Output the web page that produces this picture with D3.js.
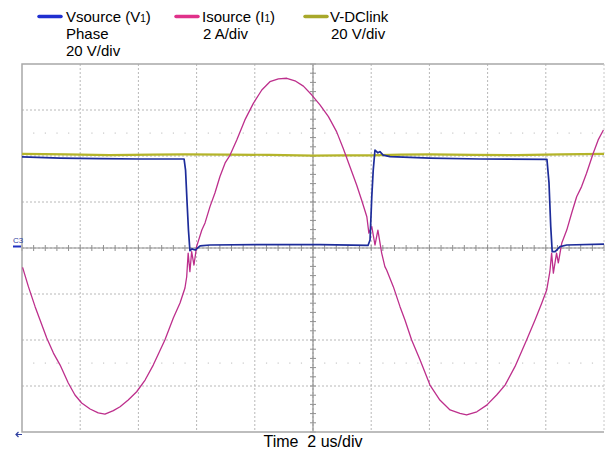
<!DOCTYPE html>
<html>
<head>
<meta charset="utf-8">
<script src="https://cdn.jsdelivr.net/npm/d3@7"></script>
<style>
	body { margin: 0; background: #fff; }
	svg { display: block; font-family: "Liberation Sans", Arial, sans-serif; }
</style>
</head>
<body>
<div id="chart"></div>
<script>
// time in us, 2 us/div, 10 divisions
var timeDivs = [0, 2, 4, 6, 8, 10, 12, 14, 16, 18, 20];
// vertical divisions, as volts at 20 V/div
var voltDivs = [-80, -60, -40, -20, 0, 20, 40, 60, 80];
// faint dotted marker rows (V)
var markerVolts = [-50, 50];

var legendNames = ["Vsource (V", "Isource (I", "V-DClink"];
var legendSubs = ["1", "1", ""];
var legendLines = [["Phase", "20 V/div"], ["2 A/div"], ["20 V/div"]];
var axisTitle = "Time  2 us/div";

// Vsource phase voltage, V
var vsrcTime = [0, 1.31, 2.68, 4.05, 5.57, 5.62, 5.67, 5.72, 5.77, 5.84, 5.95, 6.12, 6.46, 8.18, 10.24, 11.89,
	11.96, 12.02, 12.07, 12.13, 12.23, 12.3, 12.41, 12.65, 14.02, 15.74, 18.04, 18.11, 18.17, 18.22, 18.32, 18.49, 18.72, 20];
var vsrcVolt = [39.6, 39.1, 38.9, 38.7, 38.7, 33.9, 20.4, 7.8, -1.2, -0.4, -0.9, 0.9, 1.3, 1.5, 1.5, 1.1,
	3.5, 22.3, 33.9, 42.6, 41.4, 41.9, 40.4, 39.7, 39.1, 38.7, 38.5, 28.3, 9.3, -1.6, -1.6, 0.6, 1.3, 1.7];

// Isource current, A
var isrcTime = [0.02, 0.22, 0.45, 0.62, 0.85, 1.08, 1.31, 1.59, 1.82, 2.05, 2.34, 2.62, 2.85, 3.14, 3.37, 3.65,
	3.94, 4.23, 4.51, 4.91, 5.2, 5.43, 5.6, 5.66, 5.71, 5.77, 5.83, 5.91, 6.0, 6.18, 6.29, 6.46, 6.63, 6.8,
	6.98, 7.15, 7.38, 7.66, 7.95, 8.24, 8.52, 8.81, 9.1, 9.38, 9.67, 9.96, 10.24, 10.53, 10.81, 11.04, 11.27,
	11.5, 11.67, 11.85, 11.92, 12.02, 12.13, 12.23, 12.36, 12.47, 12.53, 12.76, 12.99, 13.16, 13.39, 13.68,
	14.02, 14.36, 14.71, 15.05, 15.28, 15.63, 15.97, 16.31, 16.6, 16.94, 17.34, 17.63, 17.86, 18.03, 18.14,
	18.2, 18.26, 18.37, 18.43, 18.55, 18.72, 18.89, 19.06, 19.23, 19.4, 19.63, 19.8, 19.98];
var isrcAmp = [-0.84, -1.68, -2.55, -3.13, -3.91, -4.57, -5.09, -5.87, -6.39, -6.74, -7.0, -7.17, -7.22, -7.07, -6.9, -6.61,
	-6.25, -5.74, -5.09, -4.0, -3.04, -2.39, -1.74, -1.25, -0.22, -1.03, -0.16, -0.74, 0.06, 0.78, 1.09, 1.8, 2.39, 3.1,
	3.7, 4.04, 4.7, 5.57, 6.29, 6.87, 7.23, 7.35, 7.38, 7.27, 7.04, 6.65, 6.22, 5.71, 5.06, 4.33, 3.53,
	2.74, 2.09, 1.36, 0.65, 0.93, 0.13, 0.78, -0.22, -0.81, -0.96, -1.68, -2.55, -3.13, -4.0, -4.87,
	-5.96, -6.61, -7.04, -7.19, -7.26, -7.12, -6.83, -6.39, -5.96, -5.16, -4.0, -3.13, -2.4, -1.83, -1.03,
	-0.22, -1.09, -0.22, -0.65, 0.22, 0.78, 1.52, 2.23, 2.67, 3.25, 4.12, 4.7, 5.13];

// DC link voltage, V
var dcTime = [0, 1.5, 3, 4.5, 5.6, 7, 8.5, 10, 11, 12, 13, 14, 15.5, 17, 18.5, 20];
var dcVolt = [40.9, 40.7, 40.4, 40.6, 40.7, 40.6, 40.5, 40.2, 40.3, 40.3, 40.6, 40.7, 40.5, 40.4, 40.7, 40.9];

var W = 605, H = 451;
var plot = {left: 22, right: 604, top: 64, bottom: 432};

var svg = d3.select("#chart").append("svg").attr("width", W).attr("height", H);

var x = d3.scaleLinear().domain([0, 20]).range([plot.left, plot.right]);
var yV = d3.scaleLinear().domain([-80, 80]).range([plot.bottom, plot.top]);
var yI = d3.scaleLinear().domain([-8, 8]).range([plot.bottom, plot.top]);

// dashed grid
svg.append("g").selectAll("line.vgrid").data(timeDivs.slice(1, -1)).enter().append("line")
	.classed("vgrid", 1)
	.attr("x1", function(d) { return x(d); })
	.attr("x2", function(d) { return x(d); })
	.attr("y1", plot.top).attr("y2", plot.bottom)
	.attr("stroke", "#b8b8b8").attr("stroke-width", 1).attr("stroke-dasharray", "2,2");

svg.append("g").selectAll("line.hgrid").data(voltDivs.slice(1, -1)).enter().append("line")
	.classed("hgrid", 1)
	.attr("x1", plot.left).attr("x2", plot.right)
	.attr("y1", function(d) { return yV(d); })
	.attr("y2", function(d) { return yV(d); })
	.attr("stroke", "#b8b8b8").attr("stroke-width", 1).attr("stroke-dasharray", "2,2");

// faint dotted marker rows: one dot per minor step
var minorT = d3.range(0, 20.001, 0.4).filter(function(t) { return Math.abs(t / 2 - Math.round(t / 2)) > 0.01; });
markerVolts.forEach(function(v)
{
	svg.append("g").selectAll("rect").data(minorT).enter().append("rect")
		.attr("x", function(d) { return x(d) - 0.5; })
		.attr("y", yV(v) - 0.5)
		.attr("width", 1.2).attr("height", 1.2)
		.attr("fill", "#c8c8c8");
});

// centre axes with minor ticks
svg.append("line")
	.attr("x1", plot.left).attr("x2", plot.right)
	.attr("y1", yV(0)).attr("y2", yV(0))
	.attr("stroke", "#909090").attr("stroke-width", 1.2);
svg.append("line")
	.attr("x1", x(10)).attr("x2", x(10))
	.attr("y1", plot.top).attr("y2", plot.bottom)
	.attr("stroke", "#909090").attr("stroke-width", 1.2);

svg.append("g").selectAll("line").data(d3.range(0, 20.001, 0.4)).enter().append("line")
	.attr("x1", function(d) { return x(d); })
	.attr("x2", function(d) { return x(d); })
	.attr("y1", yV(0) - 3).attr("y2", yV(0) + 3)
	.attr("stroke", "#909090").attr("stroke-width", 1);
svg.append("g").selectAll("line").data(d3.range(-80, 80.001, 4)).enter().append("line")
	.attr("x1", x(10) - 3).attr("x2", x(10) + 3)
	.attr("y1", function(d) { return yV(d); })
	.attr("y2", function(d) { return yV(d); })
	.attr("stroke", "#909090").attr("stroke-width", 1);

// frame
svg.append("path")
	.attr("d", "M" + plot.right + "," + plot.top + "H" + plot.left + "V" + plot.bottom + "H" + plot.right)
	.attr("fill", "none").attr("stroke", "#a8a8a8").attr("stroke-width", 1.5);
svg.append("line")
	.attr("x1", plot.right).attr("x2", plot.right)
	.attr("y1", plot.top).attr("y2", plot.bottom)
	.attr("stroke", "#c8c8c8").attr("stroke-width", 1).attr("stroke-dasharray", "2,2");

// traces
var dcLine = d3.line().x(function(d, i) { return x(dcTime[i]); }).y(function(d) { return yV(d); });
var vLine = d3.line().x(function(d, i) { return x(vsrcTime[i]); }).y(function(d) { return yV(d); });
var iLine = d3.line().x(function(d, i) { return x(isrcTime[i]); }).y(function(d) { return yI(d); });

svg.append("path").datum(dcVolt).attr("d", dcLine)
	.attr("fill", "none").attr("stroke", "#b4b42a").attr("stroke-width", 2.2);
svg.append("path").datum(isrcAmp).attr("d", iLine)
	.attr("fill", "none").attr("stroke", "#bd2f8c").attr("stroke-width", 1.3).attr("stroke-linejoin", "round");
svg.append("path").datum(vsrcVolt).attr("d", vLine)
	.attr("fill", "none").attr("stroke", "#1d2c9a").attr("stroke-width", 1.7).attr("stroke-linejoin", "round");

// channel marker on the left
svg.append("text").text("C3")
	.attr("x", 13).attr("y", 243)
	.attr("font-size", "8px").attr("fill", "#3040a0");
svg.append("line")
	.attr("x1", 13).attr("x2", 21)
	.attr("y1", yV(0) - 1.5).attr("y2", yV(0) - 1.5)
	.attr("stroke", "#2030c0").attr("stroke-width", 2);

// small trigger arrow, bottom left
svg.append("path")
	.attr("d", "M22,434.5H16M18.5,432L16,434.5L18.5,437")
	.attr("fill", "none").attr("stroke", "#3040a0").attr("stroke-width", 1.2);

// legend
var legColors = ["#1f2fd0", "#e0318a", "#a8a82a"];
var legX = [39, 176, 305];
var legTextX = [66, 202, 330];
var legGroups = svg.selectAll("g.leg").data(legendNames).enter().append("g").classed("leg", 1);

legGroups.append("line")
	.attr("x1", function(d, i) { return legX[i]; })
	.attr("x2", function(d, i) { return legX[i] + 22; })
	.attr("y1", 16.5).attr("y2", 16.5)
	.attr("stroke", function(d, i) { return legColors[i]; })
	.attr("stroke-width", 3.5).attr("stroke-linecap", "round");

legGroups.each(function(d, i)
{
	var g = d3.select(this);
	var t = g.append("text")
		.attr("x", legTextX[i]).attr("y", 22)
		.attr("font-size", "15px").attr("fill", "#000");
	t.append("tspan").text(d);
	if (legendSubs[i])
	{
		t.append("tspan").text(legendSubs[i]).attr("font-size", "10px");
		t.append("tspan").text(")");
	}
	legendLines[i].forEach(function(s, k)
	{
		g.append("text").text(s)
			.attr("x", legTextX[i] + (i == 0 ? 0 : 1)).attr("y", 39 + k * 17)
			.attr("font-size", "15px").attr("fill", "#000");
	});
});

svg.append("text").text(axisTitle)
	.attr("x", x(10)).attr("y", 447)
	.attr("text-anchor", "middle")
	.attr("font-size", "16px").attr("fill", "#000")
	.style("white-space", "pre");
</script>
</body>
</html>
